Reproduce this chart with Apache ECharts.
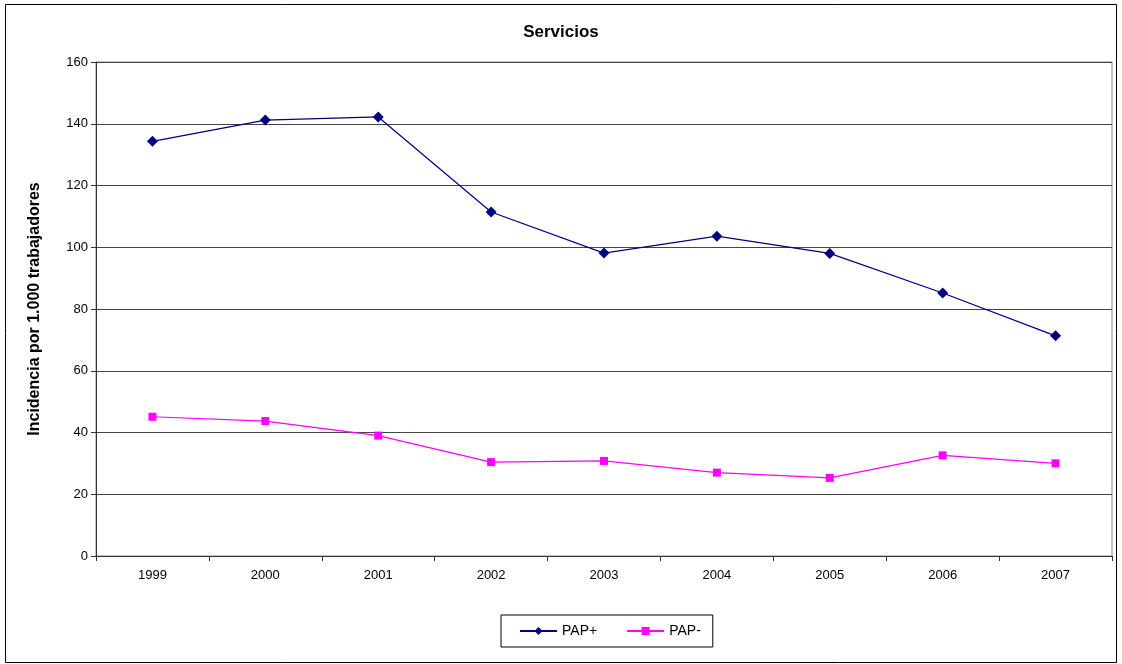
<!DOCTYPE html>
<html>
<head>
<meta charset="utf-8">
<script src="https://cdn.jsdelivr.net/npm/echarts@6/dist/echarts.min.js"></script>
<style>
  html, body { margin: 0; padding: 0; background: #fff; }
  #chart { width: 1122px; height: 664px; }
</style>
</head>
<body>
<div id="chart"></div>
<script>
// Incidencia por 1.000 trabajadores, sector servicios
const years = ['1999', '2000', '2001', '2002', '2003', '2004', '2005', '2006', '2007'];
const papPlus = [134.3, 141.2, 142.2, 111.4, 98.1, 103.6, 98.0, 85.2, 71.3];
const papMinus = [45.1, 43.7, 39.0, 30.4, 30.8, 27.0, 25.3, 32.6, 30.0];

const font = '"Liberation Sans", Arial, sans-serif';
const chart = echarts.init(document.getElementById('chart'), null, { renderer: 'canvas' });

chart.setOption({
  backgroundColor: '#fff',
  animation: false,
  textStyle: { fontFamily: font },
  title: {
    text: 'Servicios',
    left: 'center',
    top: 19,
    textStyle: { fontFamily: font, fontSize: 17, fontWeight: 'bold', color: '#000' }
  },
  graphic: [{
    type: 'rect',
    shape: { x: 5.5, y: 4.5, width: 1111, height: 658 },
    style: { fill: null, stroke: '#000', lineWidth: 1 },
    silent: true,
    z: -1
  }],
  grid: {
    left: 96, top: 62, right: 10, bottom: 108,
    show: true, borderColor: '#888', borderWidth: 1, backgroundColor: '#fff'
  },
  legend: {
    left: 501,
    top: 615,
    itemWidth: 37,
    itemHeight: 10,
    itemGap: 29,
    padding: [9, 12, 9, 18],
    borderColor: '#000',
    borderWidth: 1,
    textStyle: { fontFamily: font, fontSize: 14, color: '#000' },
    data: ['PAP+', 'PAP-']
  },
  xAxis: {
    type: 'category',
    data: years,
    boundaryGap: true,
    axisLine: { lineStyle: { color: '#333', width: 1 } },
    axisTick: { show: true, length: 5, lineStyle: { color: '#333' } },
    axisLabel: { fontFamily: font, fontSize: 13, color: '#000', margin: 13 }
  },
  yAxis: {
    type: 'value',
    min: 0, max: 160, interval: 20,
    name: 'Incidencia por 1.000 trabajadores',
    nameLocation: 'middle',
    nameGap: 53,
    nameTextStyle: { fontFamily: font, fontSize: 16, fontWeight: 'bold', color: '#000' },
    axisLine: { show: true, lineStyle: { color: '#333', width: 1 } },
    axisTick: { show: true, length: 5, lineStyle: { color: '#333' } },
    axisLabel: { fontFamily: font, fontSize: 13, color: '#000', margin: 8 },
    splitLine: { show: true, lineStyle: { color: '#444', width: 1 } }
  },
  series: [
    {
      name: 'PAP+',
      type: 'line',
      data: papPlus,
      symbol: 'diamond',
      symbolSize: 11,
      itemStyle: { color: '#000080' },
      lineStyle: { color: '#000080', width: 1.2 }
    },
    {
      name: 'PAP-',
      type: 'line',
      data: papMinus,
      symbol: 'rect',
      symbolSize: 8,
      itemStyle: { color: '#FF00FF' },
      lineStyle: { color: '#FF00FF', width: 1.2 }
    }
  ]
});
</script>
</body>
</html>
